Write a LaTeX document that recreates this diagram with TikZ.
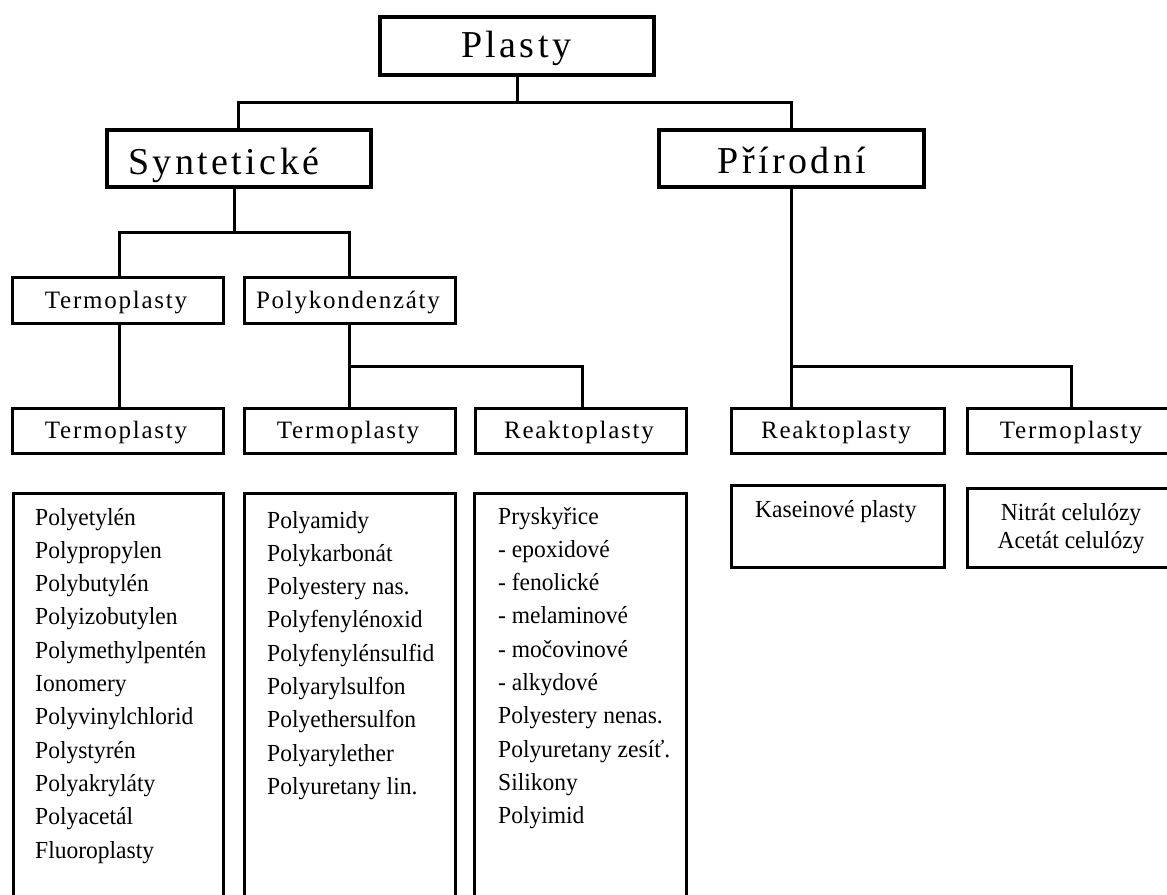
\documentclass[tikz,border=0pt]{standalone}
\usepackage{fontspec}
\setmainfont{Liberation Serif}
\newfontfamily\spaced[LetterSpace=9]{Liberation Serif}
\newfontfamily\spacedsm[LetterSpace=7]{Liberation Serif}
\newfontfamily\listfont[FakeStretch=0.96]{Liberation Serif}
\begin{document}
\begin{tikzpicture}[x=1pt,y=-1pt,
  topbox/.style={draw,line width=4.5pt,rectangle,inner sep=0pt},
  rowbox/.style={draw,line width=3pt,rectangle,inner sep=0pt},
  lbl/.style={inner sep=0pt,anchor=base},
  big/.style={font=\spaced\fontsize{38}{44}\selectfont},
  mid/.style={font=\spacedsm\fontsize{25}{29}\selectfont},
  lst/.style={inner sep=0pt,anchor=north west,align=left,font=\listfont\fontsize{24.5}{33.3}\selectfont},
  sm/.style={font=\listfont\fontsize{24.5}{28}\selectfont},
  conn/.style={line width=3pt}]
\useasboundingbox (0,0) rectangle (1167,894);
\clip (0,0) rectangle (1167,894);
% top level
\node[topbox,minimum width=274pt,minimum height=58pt] (plasty) at (517,46) {};
\node[lbl,big] (plastyT) at (516,57.5) {Plasty};
\node[topbox,minimum width=264pt,minimum height=57pt] (synt) at (239,158.5) {};
\node[lbl,big,anchor=base west] (syntT) at (128,174) {Syntetické};
\node[topbox,minimum width=265pt,minimum height=57pt] (prir) at (791.5,158.5) {};
\node[lbl,big] (prirT) at (792,173) {Přírodní};
% row 1
\node[rowbox,minimum width=211pt,minimum height=46pt] (t1) at (118,300.5) {};
\node[lbl,mid] (t1T) at (116,308) {Termoplasty};
\node[rowbox,minimum width=211pt,minimum height=46pt] (pk) at (350,300.5) {};
\node[lbl,mid] (pkT) at (348,308) {Polykondenzáty};
% row 2
\node[rowbox,minimum width=211pt,minimum height=45pt] (t2a) at (118,431) {};
\node[lbl,mid] (t2aT) at (116,438) {Termoplasty};
\node[rowbox,minimum width=211pt,minimum height=45pt] (t2b) at (350,431) {};
\node[lbl,mid] (t2bT) at (348,438) {Termoplasty};
\node[rowbox,minimum width=211pt,minimum height=45pt] (r2a) at (581,431) {};
\node[lbl,mid] (r2aT) at (579,438) {Reaktoplasty};
\node[rowbox,minimum width=213pt,minimum height=45pt] (r2b) at (838,431) {};
\node[lbl,mid] (r2bT) at (836,438) {Reaktoplasty};
\node[rowbox,minimum width=207pt,minimum height=45pt] (t2c) at (1071,431) {};
\node[lbl,mid] (t2cT) at (1071,438) {Termoplasty};
% row 3
\node[rowbox,minimum width=210pt,minimum height=430pt] (l1) at (118.5,708.5) {};
\node[lst] (l1T) at (35,501.5) {\strut Polyetylén\\Polypropylen\\Polybutylén\\Polyizobutylen\\Polymethylpentén\\Ionomery\\Polyvinylchlorid\\Polystyrén\\Polyakryláty\\Polyacetál\\Fluoroplasty};
\node[rowbox,minimum width=211pt,minimum height=430pt] (l2) at (349.5,708.5) {};
\node[lst] (l2T) at (267,504.5) {\strut Polyamidy\\Polykarbonát\\Polyestery nas.\\Polyfenylénoxid\\Polyfenylénsulfid\\Polyarylsulfon\\Polyethersulfon\\Polyarylether\\Polyuretany lin.};
\node[rowbox,minimum width=212pt,minimum height=430pt] (l3) at (580.5,708.5) {};
\node[lst] (l3T) at (498,500.5) {\strut Pryskyřice\\- epoxidové\\- fenolické\\- melaminové\\- močovinové\\- alkydové\\Polyestery nenas.\\Polyuretany zesíť.\\Silikony\\Polyimid};
\node[rowbox,minimum width=213pt,minimum height=82pt] (kas) at (838,526.5) {};
\node[lbl,anchor=base west,sm] (kasT) at (755,517) {Kaseinové plasty};
\node[rowbox,minimum width=207pt,minimum height=79pt] (cel) at (1071,528) {};
\node[lbl,sm] (celT1) at (1071,520) {Nitrát celulózy};
\node[lbl,sm] (celT2) at (1071,548) {Acetát celulózy};
% connectors
\coordinate (j1) at (517,102);
\coordinate (j2) at (234,232);
\coordinate (j3) at (349,366);
\coordinate (j4) at (792,366);
\draw[conn] (plasty.south) -- (j1);
\draw[conn] (synt.north -| 238,0) |- (j1) -| (prir.north);
\draw[conn] (synt.south -| j2) -- (j2);
\draw[conn] (t1.north -| 119,0) |- (j2) -| (pk.north -| j3);
\draw[conn] (t1.south -| 119,0) -- (t2a.north -| 119,0);
\draw[conn] (pk.south -| j3) -- (t2b.north -| j3);
\draw[conn] (j3) -| (r2a.north -| 582,0);
\draw[conn] (prir.south) -- (r2b.north -| prir.south);
\draw[conn] (j4) -| (t2c.north);
\end{tikzpicture}
\end{document}
